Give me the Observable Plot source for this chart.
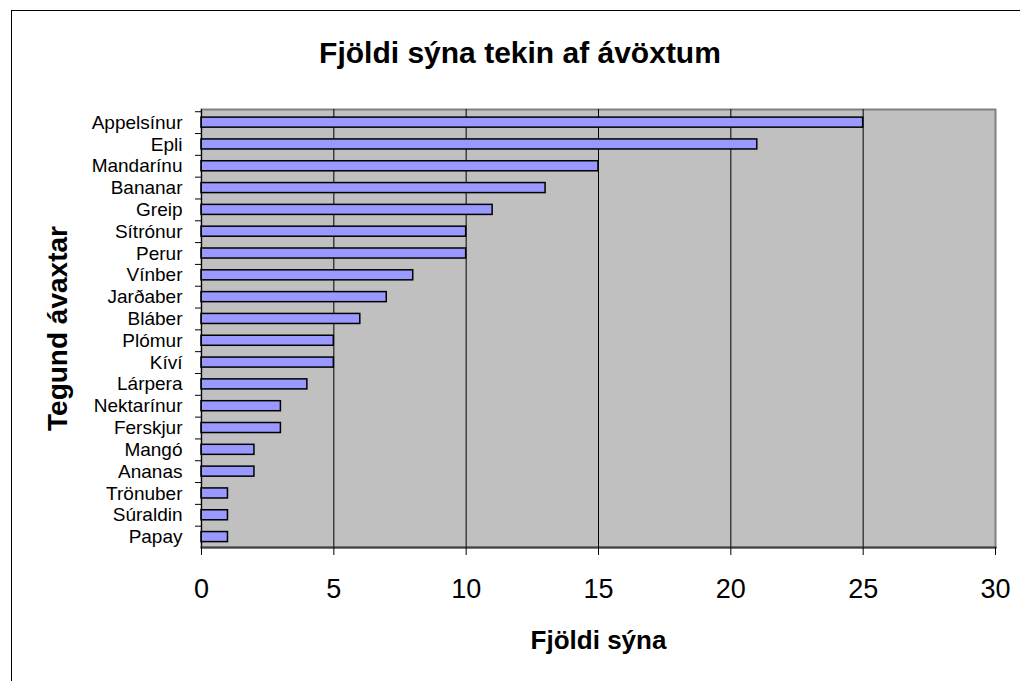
<!DOCTYPE html>
<html>
<head>
<meta charset="utf-8">
<script src="https://cdn.jsdelivr.net/npm/d3@7"></script>
<script src="https://cdn.jsdelivr.net/npm/@observablehq/plot@0.6"></script>
<style>
  html, body { margin: 0; padding: 0; background: #fff; width: 1020px; height: 681px; overflow: hidden; }
  body { font-family: "Liberation Sans", Arial, sans-serif; position: relative; }
  #frame { position: absolute; left: 11px; top: 10px; width: 1100px; height: 1000px; border-left: 1px solid #000; border-top: 1px solid #000; }
  #title { position: absolute; left: 0; width: 1040px; top: 36px; text-align: center; font-weight: bold; font-size: 30px; color: #000; }
  #chart { position: absolute; left: 0; top: 100px; }
  #chart svg { font-family: "Liberation Sans", Arial, sans-serif; }
  [aria-label="y-axis tick label"] { font-size: 19px; }
  [aria-label="x-axis tick label"] { font-size: 27px; }
  [aria-label="x-axis label"] { font-size: 26px; font-weight: bold; }
  [aria-label="y-axis label"] { font-size: 28px; font-weight: bold; }
</style>
</head>
<body>
<div id="frame"></div>
<div id="title">Fjöldi sýna tekin af ávöxtum</div>
<div id="chart"></div>
<script>
const fruits = ["Appelsínur","Epli","Mandarínu","Bananar","Greip","Sítrónur","Perur","Vínber","Jarðaber","Bláber","Plómur","Kíví","Lárpera","Nektarínur","Ferskjur","Mangó","Ananas","Trönuber","Súraldin","Papay"];
const samples = [25,21,15,13,11,10,10,8,7,6,5,5,4,3,3,2,2,1,1,1];
const xTicks = [0,5,10,15,20,25,30];
const gridTicks = [5,10,15,20,25];
const titleText = "Fjöldi sýna tekin af ávöxtum";
const xLabel = "Fjöldi sýna";
const yLabel = "Tegund ávaxtar";

const data = fruits.map((f, i) => ({fruit: f, n: samples[i]}));

const chart = Plot.plot({
  width: 1020,
  height: 581,
  marginTop: 9,
  marginBottom: 134,
  marginLeft: 201,
  marginRight: 25,
  style: {background: "transparent", color: "#000"},
  x: {domain: [0, 30]},
  y: {domain: fruits, paddingInner: 0.54, paddingOuter: 0.31, align: 0.6, round: false},
  marks: [
    Plot.frame({fill: "#c0c0c0", stroke: "#808080", strokeWidth: 2}),
    Plot.gridX(gridTicks, {stroke: "#000", strokeOpacity: 1, strokeWidth: 1}),
    Plot.barX(data, {x: "n", y: "fruit", fill: "#9999ff", stroke: "#000", strokeWidth: 1.5}),
    Plot.frame({anchor: "left", stroke: "#000", strokeWidth: 1}),
    Plot.frame({anchor: "bottom", stroke: "#404040", strokeWidth: 2}),
    Plot.axisX({ticks: xTicks, tickSize: 8, tickPadding: 23, tickFormat: d3.format("d"),
      label: xLabel, labelAnchor: "center", labelOffset: 101, labelArrow: "none", stroke: "#000"}),
    Plot.axisY({tickSize: 0, tickPadding: 19, label: yLabel, labelAnchor: "center", labelOffset: 154, labelArrow: "none"}),
    Plot.axisY({tickSize: 6, text: null, label: null, dy: -10.9, stroke: "#000"})
  ]
});
document.getElementById("chart").appendChild(chart);
document.getElementById("title").textContent = titleText;
</script>
</body>
</html>
